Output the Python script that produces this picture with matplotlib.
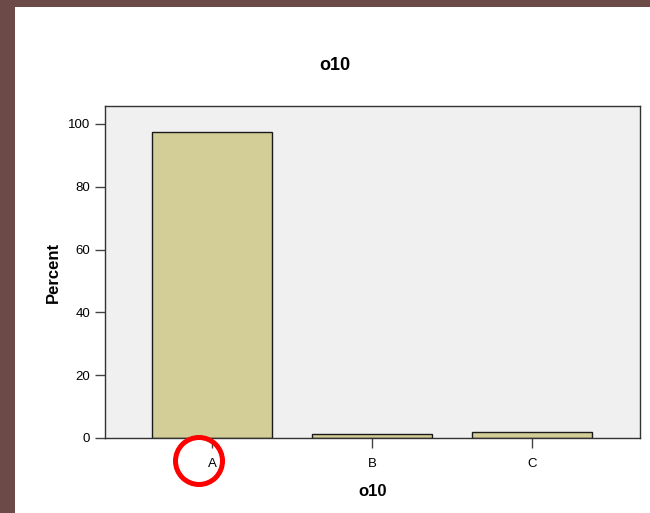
import matplotlib
matplotlib.use("Agg")
import matplotlib.pyplot as plt
from matplotlib.patches import Rectangle, Ellipse

categories = ["A", "B", "C"]
percent = [97.3, 1.2, 1.8]
title_text = "o10"
y_ticks = [0, 20, 40, 60, 80, 100]

W, H = 650, 513
plt.rcParams['font.family'] = ['Liberation Sans', 'DejaVu Sans']

fig = plt.figure(figsize=(W / 100, H / 100), dpi=100)
fig.patch.set_facecolor("white")

# brown frame strips at top and left
fig.patches.append(Rectangle((0, 1 - 7 / H), 1, 7 / H, transform=fig.transFigure,
                             facecolor="#6b4a48", edgecolor="none", zorder=0))
fig.patches.append(Rectangle((0, 0), 15 / W, 1, transform=fig.transFigure,
                             facecolor="#6b4a48", edgecolor="none", zorder=0))

ax = fig.add_axes([105 / W, (H - 438) / H, 535 / W, 332 / H])
ax.set_facecolor("#f0f0f0")

x = range(len(categories))
ax.bar(x, percent, width=0.75, color="#d3cd97", edgecolor="#1a1a1a", linewidth=1.0)

ax.set_xlim(-0.67, 2.675)
ax.set_ylim(0, 105.7)
ax.set_xticks(list(x))
ax.set_xticklabels(categories)
ax.set_yticks(y_ticks)
ax.tick_params(axis="both", labelsize=9.5, length=7, width=1, color="#444444")
ax.tick_params(axis="x", pad=7.5)
ax.tick_params(axis="y", pad=3.6)
for s in ax.spines.values():
    s.set_color("#333333")
    s.set_linewidth(1.0)

ax.set_ylabel("Percent", fontsize=12, fontweight="bold", labelpad=5)
ax.set_xlabel(title_text, fontsize=12, fontweight="bold", labelpad=10)
fig.text(335 / W, 1 - 66 / H, title_text, ha="center", va="center",
         fontsize=13, fontweight="bold")

# red circle highlighting the A label
fig.patches.append(Ellipse((199 / W, 1 - 461 / H), 47 / W, 47 / H,
                           transform=fig.transFigure, fill=False,
                           edgecolor="#ff0000", linewidth=3.6, zorder=5))

fig.savefig("out.png", dpi=100)
